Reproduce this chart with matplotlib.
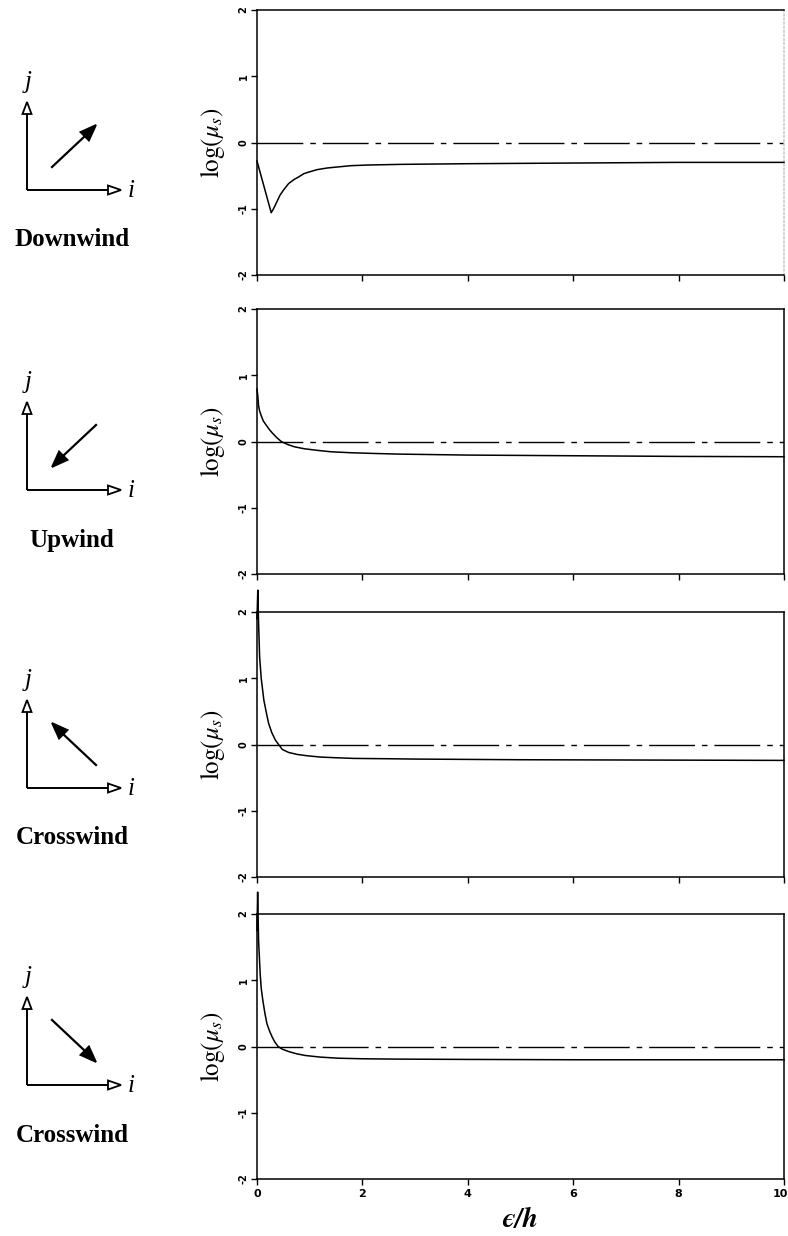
import matplotlib
matplotlib.use("Agg")
import matplotlib.pyplot as plt
from matplotlib.patches import Polygon
from matplotlib.transforms import ScaledTranslation
import numpy as np

plt.rcParams["mathtext.fontset"] = "stix"
plt.rcParams["axes.unicode_minus"] = False

# ---- data -------------------------------------------------------------
x_ticks = [0, 2, 4, 6, 8, 10]
y_ticks = [-2, -1, 0, 1, 2]

downwind_x = [0.0, 0.27, 0.32, 0.38, 0.44, 0.51, 0.60, 0.70, 0.79, 0.89, 1.01, 1.14,
              1.33, 1.52, 1.78, 2.10, 2.73, 4.0, 6.0, 8.0, 10.0]
downwind_y = [-0.28, -1.06, -0.99, -0.89, -0.79, -0.71, -0.62, -0.56, -0.52, -0.47, -0.44, -0.41,
              -0.385, -0.37, -0.35, -0.34, -0.33, -0.32, -0.31, -0.30, -0.30]

upwind_x = [0.0, 0.015, 0.03, 0.05, 0.08, 0.12, 0.18, 0.24, 0.30, 0.38, 0.46, 0.58, 0.71,
            0.90, 1.16, 1.40, 1.79, 2.20, 2.67, 4.0, 6.0, 8.0, 10.0]
upwind_y = [0.79, 0.69, 0.54, 0.46, 0.39, 0.31, 0.24, 0.175, 0.12, 0.055, 0.0, -0.045, -0.08,
            -0.11, -0.135, -0.155, -0.17, -0.18, -0.19, -0.205, -0.215, -0.225, -0.23]

cross_a_x = [0.0, 0.015, 0.03, 0.05, 0.08, 0.13, 0.18, 0.22, 0.28, 0.35, 0.48, 0.60, 0.76,
             0.95, 1.21, 1.50, 1.84, 2.50, 3.0, 5.0, 7.5, 10.0]
cross_a_y = [1.9, 2.33, 1.83, 1.32, 1.0, 0.67, 0.47, 0.32, 0.18, 0.065, -0.075, -0.12, -0.15,
             -0.17, -0.19, -0.20, -0.21, -0.215, -0.22, -0.23, -0.235, -0.24]

cross_b_x = [0.0, 0.012, 0.03, 0.06, 0.08, 0.11, 0.15, 0.19, 0.24, 0.29, 0.34, 0.40, 0.48,
             0.60, 0.75, 0.92, 1.20, 1.55, 2.0, 2.6, 4.0, 6.0, 8.0, 10.0]
cross_b_y = [1.75, 2.33, 1.6, 1.1, 0.88, 0.70, 0.50, 0.34, 0.23, 0.14, 0.065, 0.0, -0.04,
             -0.076, -0.11, -0.136, -0.16, -0.177, -0.185, -0.19, -0.195, -0.2, -0.2, -0.2]

series = [(downwind_x, downwind_y), (upwind_x, upwind_y),
          (cross_a_x, cross_a_y), (cross_b_x, cross_b_y)]

wind_labels = ["Downwind", "Upwind", "Crosswind", "Crosswind"]
# flow direction in (i, j) components
wind_dirs = [(1, 1), (-1, -1), (-1, 1), (1, -1)]

# ---- figure ----------------------------------------------------------------
W, H = 788, 1236
fig = plt.figure(figsize=(W / 100, H / 100), dpi=100)

panel_tops = [10, 309, 612, 914]
panel_h = 265
ax_left, ax_right = 257, 784

for k, (top, (xs, ys)) in enumerate(zip(panel_tops, series)):
    ax = fig.add_axes([ax_left / W, 1 - (top + panel_h) / H,
                       (ax_right - ax_left) / W, panel_h / H])
    ax.set_xlim(0, 10)
    ax.set_ylim(-2, 2)
    ax.axhline(0, color="black", lw=1.0, dashes=(33, 5, 4, 5))
    ax.plot(xs, ys, color="black", lw=1.1, clip_on=False, zorder=3)
    ax.set_xticks(x_ticks)
    ax.set_yticks(y_ticks)
    ax.tick_params(axis="both", direction="out", length=4, width=1.0)
    ax.tick_params(axis="y", labelrotation=90, labelsize=7, pad=2)
    ax.tick_params(axis="x", labelsize=8, pad=3)
    for lab in ax.get_yticklabels() + ax.get_xticklabels():
        lab.set_fontweight("bold")
    for lab in ax.get_yticklabels():
        lab.set_va("center")
    for s in ax.spines.values():
        s.set_linewidth(1.1)
    if k == 0:
        ax.spines["right"].set_color("#c8c8c8")
        ax.spines["right"].set_linestyle(":")
    if k < 3:
        ax.set_xticklabels([])
    else:
        last = ax.get_xticklabels()[-1]
        last.set_transform(last.get_transform()
                           + ScaledTranslation(-4 / 100, 0, fig.dpi_scale_trans))
    ax.text(-0.085, 0.5, r"$\mathrm{log}(\mu_s)$", transform=ax.transAxes,
            rotation=90, ha="center", va="center", fontsize=18)

fig.text(520 / W, 1 - 1220 / H, "\u03f5/h", ha="center", va="center",
         fontsize=20, family=["STIXGeneral", "DejaVu Serif"],
         style="italic", weight="bold")

# ---- orientation sketches ------------------------------------------------
ov = fig.add_axes([0, 0, 1, 1], zorder=-1)
ov.set_xlim(0, W)
ov.set_ylim(H, 0)
ov.axis("off")


def head(ax, tip, d, length, width, filled):
    d = np.asarray(d, float)
    d /= np.hypot(*d)
    n = np.array([-d[1], d[0]])
    tip = np.asarray(tip, float)
    base = tip - d * length
    pts = [tip, base + n * width / 2, base - n * width / 2]
    ax.add_patch(Polygon(pts, closed=True, facecolor="black" if filled else "white",
                         edgecolor="black", lw=1.3, zorder=4, joinstyle="miter"))
    return base


corner_ys = [190, 490, 788, 1085]
cx = 27
for cy, label, (di, dj) in zip(corner_ys, wind_labels, wind_dirs):
    # j axis
    b = head(ov, (cx, cy - 88), (0, -1), 12, 9, False)
    ov.plot([cx, cx], [cy, b[1]], color="black", lw=1.4, solid_capstyle="butt")
    # i axis
    b = head(ov, (cx + 94, cy), (1, 0), 13, 9, False)
    ov.plot([cx, b[0]], [cy, cy], color="black", lw=1.4, solid_capstyle="butt")
    ov.text(cx + 104, cy + 1, "i", fontsize=18, family="Liberation Serif",
            style="italic", ha="center", va="center")
    ov.text(cx + 1, cy - 108, "j", fontsize=18, family="Liberation Serif",
            style="italic", ha="center", va="center")
    # flow arrow
    mx, my = cx + 47, cy - 44
    tail = (mx - di * 22, my + dj * 21)
    tip = (mx + di * 22, my - dj * 21)
    b = head(ov, tip, (di, -dj), 16, 12, True)
    ov.plot([tail[0], b[0]], [tail[1], b[1]], color="black", lw=1.6)
    ov.text(72, cy + 50, label, fontsize=18, family="Liberation Serif",
            weight="bold", ha="center", va="center")

fig.savefig("out.png", dpi=100)
